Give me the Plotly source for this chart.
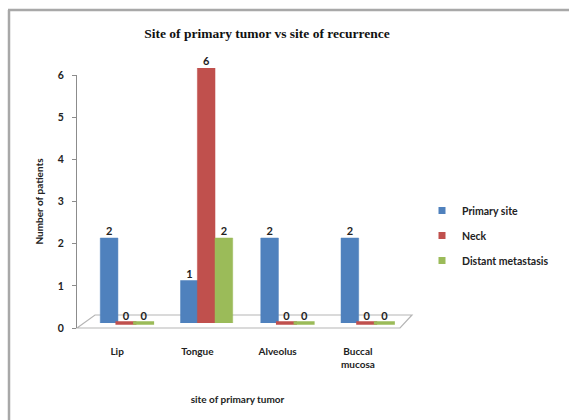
import plotly.graph_objects as go

# Data
categories = ["Lip", "Tongue", "Alveolus", "Buccal<br>mucosa"]
primary_site = [2, 1, 2, 2]
neck = [0, 6, 0, 0]
distant_metastasis = [0, 2, 0, 0]
y_ticks = [0, 1, 2, 3, 4, 5, 6]

series = [
    ("Primary site", primary_site, "#4F81BD", -0.21),
    ("Neck", neck, "#C0504D", 0.0),
    ("Distant metastasis", distant_metastasis, "#9BBB59", 0.22),
]
BAR_W = 0.22

# Canvas geometry (pixels)
W, H = 569, 420
L, R, T, B = 77, 398, 68, 328
BAR_TOP, BAR_BASE = 68, 323      # back plane where the bars stand
AX_TOP, AX_BASE = 75, 328        # front plane carrying the value axis

def px_x(p):
    return (p - L) / (R - L)

def px_y(p):
    return (B - p) / (B - T)

FONT = "Lato"
TXT = "#222222"

fig = go.Figure()
xs = list(range(len(categories)))

for name, vals, color, off in series:
    fig.add_trace(go.Bar(
        x=xs, y=vals, name=name, width=BAR_W, offset=off,
        marker=dict(color=color, line=dict(color=color, width=0.5)),
        showlegend=False,
    ))
    # flat discs for zero-valued bars
    zx = [i + off + BAR_W / 2 for i, v in zip(xs, vals) if v == 0]
    if zx:
        fig.add_trace(go.Scatter(
            x=zx, y=[0] * len(zx), mode="markers", showlegend=False,
            hoverinfo="skip", cliponaxis=False,
            marker=dict(symbol="line-ew", size=15,
                        line=dict(color=color, width=3.5)),
        ))
    # value labels
    fig.add_trace(go.Scatter(
        x=[i + off + BAR_W / 2 for i in xs], y=vals, mode="text",
        text=[str(v) for v in vals], textposition="top center",
        textfont=dict(family=FONT, size=11, color=TXT, weight="bold"),
        showlegend=False, hoverinfo="skip", cliponaxis=False,
    ))
    # legend key (small square swatch), placed on the front-plane axis
    fig.add_trace(go.Scatter(
        x=[None], y=[None], mode="markers", name=name, legendgroup=name,
        yaxis="y2", marker=dict(symbol="square", size=7, color=color),
    ))

# floor of the plot area and outer frame
floor = (f"M {px_x(77)},{px_y(328)} L {px_x(95)},{px_y(315)} "
         f"L {px_x(412)},{px_y(315)} L {px_x(400)},{px_y(328)} Z")
shapes = [
    dict(type="path", xref="paper", yref="paper", path=floor,
         line=dict(color="#B5B5B5", width=1.2), fillcolor="rgba(0,0,0,0)",
         layer="below"),
    dict(type="line", xref="paper", yref="paper",
         x0=px_x(9), x1=px_x(9), y0=px_y(10), y1=px_y(430),
         line=dict(color="#A8A8A8", width=2.5)),
    dict(type="line", xref="paper", yref="paper",
         x0=px_x(8), x1=px_x(580), y0=px_y(10), y1=px_y(10),
         line=dict(color="#A8A8A8", width=2.5)),
]

tick_font = dict(family=FONT, size=10.5, color=TXT, weight="bold")

fig.update_layout(
    width=W, height=H,
    margin=dict(l=L, r=W - R, t=T, b=H - B, autoexpand=False),
    paper_bgcolor="white", plot_bgcolor="rgba(0,0,0,0)",
    barmode="overlay",
    shapes=shapes,
    title=dict(text="<b>Site of primary tumor vs site of recurrence</b>",
               x=267 / W, y=1 - 33 / H, xref="container", yref="container",
               xanchor="center", yanchor="middle",
               font=dict(family="Liberation Serif", size=13.5, color="#111")),
    legend=dict(xref="container", yref="container", x=422 / W, y=1 - 196 / H,
                xanchor="left", yanchor="top",
                font=dict(family=FONT, size=10.5, color=TXT, weight="bold"),
                tracegroupgap=6, itemwidth=30, traceorder="grouped",
                bgcolor="rgba(0,0,0,0)"),
    xaxis=dict(range=[-0.5, 3.5], tickmode="array", tickvals=xs,
               ticktext=categories, showgrid=False, zeroline=False,
               showline=False, ticks="", ticklabelstandoff=16, anchor="y2",
               tickfont=dict(family=FONT, size=10, color=TXT, weight="bold"),
               title=dict(text="site of primary tumor", standoff=26,
                          font=dict(family=FONT, size=10, color=TXT,
                                    weight="bold"))),
    # axis used by the bars (back plane)
    yaxis=dict(range=[0, 6], domain=[px_y(BAR_BASE), px_y(BAR_TOP)],
               visible=False, fixedrange=True),
    # value axis drawn on the front plane
    yaxis2=dict(range=[0, 6], domain=[px_y(AX_BASE), px_y(AX_TOP)],
                anchor="x",
                tickmode="array", tickvals=y_ticks,
                showgrid=False, zeroline=False, showline=True,
                linecolor="#8C8C8C", linewidth=1, ticks="outside",
                ticklen=4, tickcolor="#8C8C8C", ticklabelstandoff=6,
                tickfont=tick_font,
                title=dict(text="Number of patients", standoff=12,
                           font=dict(family=FONT, size=10, color=TXT,
                                     weight="bold"))),
)

fig.write_html("out.html")
